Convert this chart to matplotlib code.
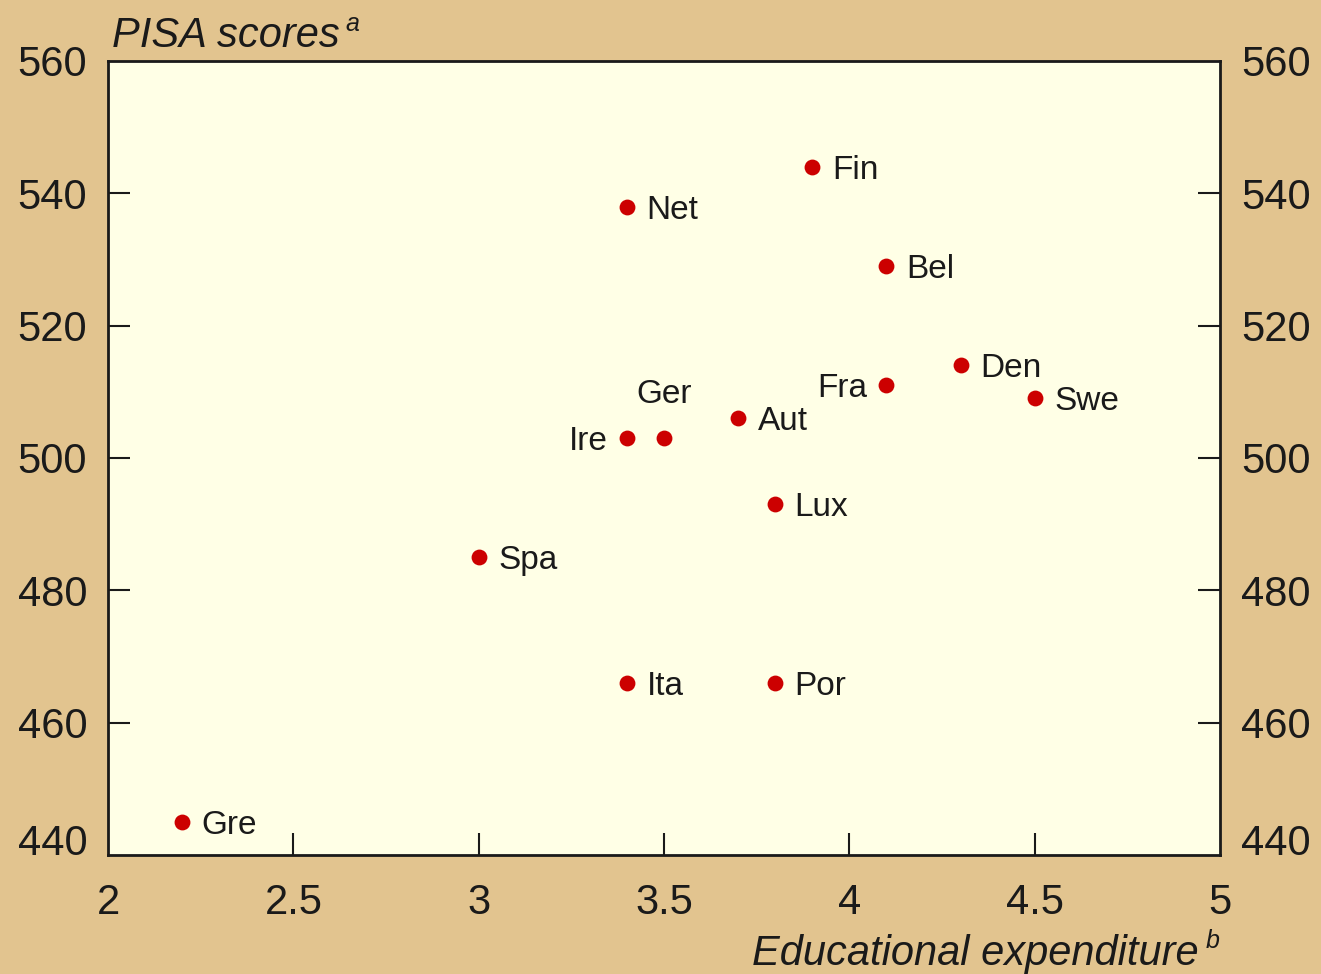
import matplotlib.pyplot as plt

# data
countries = ['Gre', 'Spa', 'Ita', 'Por', 'Ire', 'Ger', 'Aut', 'Lux',
             'Net', 'Fin', 'Bel', 'Fra', 'Den', 'Swe']
expenditure = [2.2, 3.0, 3.4, 3.8, 3.4, 3.5, 3.7, 3.8, 3.4, 3.9, 4.1, 4.1, 4.3, 4.5]
pisa = [445, 485, 466, 466, 503, 503, 506, 493, 538, 544, 529, 511, 514, 509]

# where the label sits relative to its dot
label_side = {'Ire': 'left', 'Fra': 'left', 'Ger': 'above'}

xticks = [2, 2.5, 3, 3.5, 4, 4.5, 5]
xticklabels = ['2', '2.5', '3', '3.5', '4', '4.5', '5']
yticks = [440, 460, 480, 500, 520, 540, 560]

bg = '#E2C48F'
panel = '#FFFFE6'
red = '#CC0000'
ink = '#1A1A1A'

plt.rcParams['font.family'] = ['Liberation Sans Narrow', 'Liberation Sans', 'DejaVu Sans']

fig = plt.figure(figsize=(13.21, 9.74), dpi=100, facecolor=bg)
ax = fig.add_axes([0.0818, 0.1222, 0.8418, 0.8152], facecolor=panel)

ax.scatter(expenditure, pisa, s=130, color=red, zorder=3, linewidths=0)

for c, x, y in zip(countries, expenditure, pisa):
    side = label_side.get(c, 'right')
    if side == 'right':
        ax.annotate(c, (x, y), xytext=(14, 0), textcoords='offset points',
                    ha='left', va='center_baseline', fontsize=24, color=ink)
    elif side == 'left':
        ax.annotate(c, (x, y), xytext=(-14, 0), textcoords='offset points',
                    ha='right', va='center_baseline', fontsize=24, color=ink)
    else:
        ax.annotate(c, (x, y), xytext=(0, 20), textcoords='offset points',
                    ha='center', va='bottom', fontsize=24, color=ink)

ax.set_xlim(2, 5)
ax.set_ylim(440, 560)
ax.set_xticks(xticks)
ax.set_xticklabels(xticklabels)
ax.set_yticks(yticks)

for s in ax.spines.values():
    s.set_linewidth(2)
    s.set_color(ink)

ax.tick_params(axis='both', direction='in', length=16, width=1.5, color=ink,
               labelsize=30, labelcolor=ink)
ax.tick_params(axis='y', left=True, right=True, labelleft=True, labelright=True, pad=15)
ax.tick_params(axis='x', pad=20)

# bottom y label sits on the axis so it clears the x labels
ytk = ax.yaxis.get_major_ticks()
ytk[0].label1.set_verticalalignment('baseline')
ytk[0].label2.set_verticalalignment('baseline')
# no tick marks at the corners
for t in (ytk[0], ytk[-1]):
    t.tick1line.set_visible(False)
    t.tick2line.set_visible(False)
xtk = ax.xaxis.get_major_ticks()
for t in (xtk[0], xtk[-1]):
    t.tick1line.set_visible(False)

# titles with a small superscript note
t1 = fig.text(0.085, 0.952, 'PISA scores', fontsize=30, style='italic',
              color=ink, ha='left', va='baseline')
fig.canvas.draw()
bb = t1.get_window_extent()
fig.text(bb.x1 / fig.bbox.width + 0.004, 0.968, 'a', fontsize=18, style='italic',
         color=ink, ha='left', va='baseline')

fig.text(0.9235, 0.027, 'b', fontsize=18, style='italic', color=ink,
         ha='right', va='baseline')
fig.text(0.9235 - 0.016, 0.009, 'Educational expenditure', fontsize=30,
         style='italic', color=ink, ha='right', va='baseline')

fig.savefig('out.png', dpi=100, facecolor=bg)
